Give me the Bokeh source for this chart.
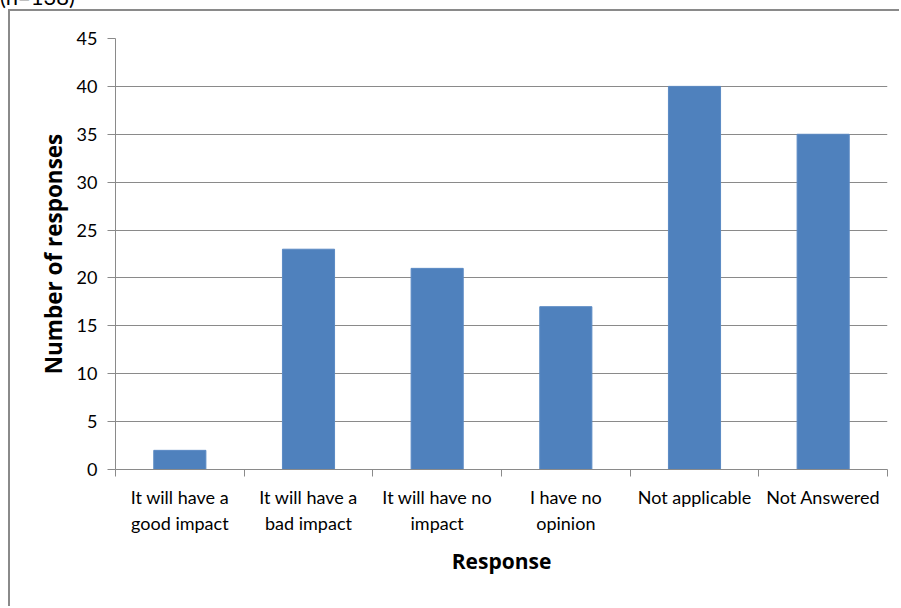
from bokeh.plotting import figure
from bokeh.models import FixedTicker, Range1d, Div
from bokeh.layouts import column
from bokeh.embed import file_html
from bokeh.resources import INLINE

categories = ["It will have a\ngood impact", "It will have a\nbad impact", "It will have no\nimpact",
              "I have no\nopinion", "Not applicable", "Not Answered"]
values = [2, 23, 21, 17, 40, 35]
y_ticks = [0, 5, 10, 15, 20, 25, 30, 35, 40, 45]
note = "(n=138)"

FONT = "Lato"
TFONT = "Open Sans"
GRAY = "#8a8a8a"

p = figure(width=889, height=595, output_backend="svg", toolbar_location=None,
           x_range=Range1d(0, len(categories)), y_range=Range1d(0, 45),
           min_border_left=105, min_border_right=12, min_border_top=27, min_border_bottom=137,
           margin=0)

xs = [i + 0.5 for i in range(len(categories))]
p.vbar(x=xs, top=values, width=0.405, bottom=0, fill_color="#4F81BD", line_color="#5b8ac4", line_width=1)

p.outline_line_color = None
p.xgrid.visible = False
p.ygrid.ticker = FixedTicker(ticks=y_ticks)
p.ygrid.grid_line_color = GRAY
p.ygrid.grid_line_width = 1

xa = p.xaxis[0]
xa.ticker = FixedTicker(ticks=xs, minor_ticks=list(range(len(categories) + 1)))
xa.major_label_overrides = {x: c for x, c in zip(xs, categories)}
xa.major_tick_line_color = None
xa.major_tick_out = 6
xa.minor_tick_line_color = GRAY
xa.minor_tick_out = 7
xa.minor_tick_in = 0
xa.axis_line_color = GRAY
xa.major_label_text_font = FONT
xa.major_label_text_font_size = "18px"
xa.major_label_text_color = "#000000"
xa.major_label_standoff = 9
xa.axis_label = "Response"
xa.axis_label_text_font = TFONT
xa.axis_label_text_font_size = "21px"
xa.axis_label_text_font_style = "bold"
xa.axis_label_text_color = "#000000"
xa.axis_label_standoff = 10

ya = p.yaxis[0]
ya.ticker = FixedTicker(ticks=y_ticks, minor_ticks=[])
ya.major_tick_line_color = GRAY
ya.major_tick_out = 8
ya.major_tick_in = 0
ya.minor_tick_line_color = None
ya.axis_line_color = GRAY
ya.major_label_text_font = FONT
ya.major_label_text_font_size = "18px"
ya.major_label_text_color = "#000000"
ya.major_label_standoff = 10
ya.axis_label = "Number of responses"
ya.axis_label_text_font = TFONT
ya.axis_label_text_font_size = "22.5px"
ya.axis_label_text_font_style = "bold"
ya.axis_label_text_color = "#000000"
ya.axis_label_standoff = 5

note_div = Div(
    text=("<div style='position:relative;top:-14px;left:0px;font-family:Lato;font-size:22px;"
          "line-height:22px;color:#000;white-space:nowrap'>" + note + "</div>"),
    width=200, height=9, margin=0, styles={"overflow": "hidden"})

inner = column(p, margin=(0, 0, 0, 8),
               styles={"border-left": "2px solid #8a8a8a", "border-top": "2px solid #8a8a8a"})
root = column(note_div, inner, margin=0, spacing=0)

open("out.html", "w").write(file_html(root, INLINE))
